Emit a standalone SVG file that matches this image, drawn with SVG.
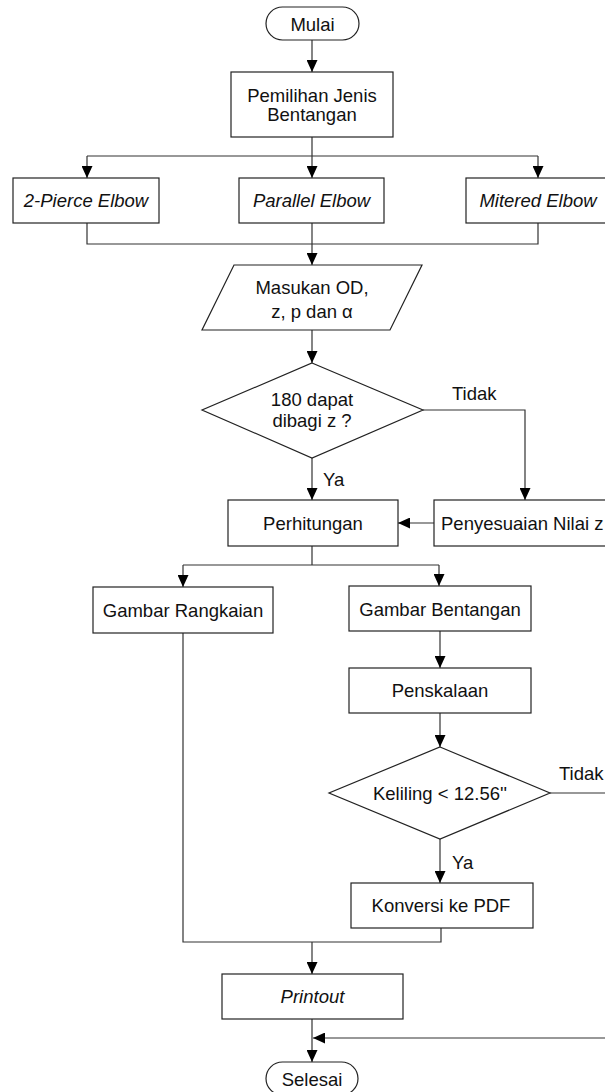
<svg xmlns="http://www.w3.org/2000/svg" width="605" height="1092" viewBox="0 0 605 1092">
<defs>
<marker id="ah" markerUnits="userSpaceOnUse" markerWidth="12" markerHeight="11" refX="12" refY="5.5" orient="auto">
<path d="M0,0 L12,5.5 L0,11 z" fill="#000"/>
</marker>
<style>
.box{fill:#fff;stroke:#222;stroke-width:1.2}
.ln{fill:none;stroke:#333;stroke-width:1.2}
.arr{fill:none;stroke:#333;stroke-width:1.2;marker-end:url(#ah)}
text{font-family:"Liberation Sans",Arial,sans-serif;font-size:18.5px;fill:#111;text-anchor:middle;dominant-baseline:central}
.it{font-style:italic}
.lb{text-anchor:start}
</style>
</defs>
<rect width="605" height="1092" fill="#fff"/>
<g id="connectors">
<path class="arr" d="M312,40 V72"/>
<path class="ln" d="M312,137 V156 M87,156 H538"/>
<path class="arr" d="M87,156 V178"/>
<path class="arr" d="M312,156 V178"/>
<path class="arr" d="M538,156 V178"/>
<path class="ln" d="M87,223 V244 H538 V223"/>
<path class="arr" d="M312,223 V265"/>
<path class="arr" d="M312,330 V363"/>
<path class="arr" d="M312,458 V500"/>
<path class="arr" d="M423,410 H525 V500"/>
<path class="arr" d="M434,523 H398"/>
<path class="ln" d="M312,546 V565 M183,565 H439"/>
<path class="arr" d="M183,565 V587"/>
<path class="arr" d="M439,565 V586"/>
<path class="arr" d="M440,631 V668"/>
<path class="arr" d="M440,713 V747"/>
<path class="ln" d="M550,793 H606"/>
<path class="arr" d="M440,839 V883"/>
<path class="ln" d="M183,633 V942 H441 V928"/>
<path class="arr" d="M312,942 V974"/>
<path class="arr" d="M312,1019 V1062"/>
<path class="arr" d="M606,1038 H313"/>
</g>
<g id="mulai"><rect class="box" x="266" y="7" width="93" height="33" rx="16.5"/><text x="312.5" y="24">Mulai</text></g>
<g id="pemilihan"><rect class="box" x="231" y="72" width="162" height="65"/><text x="312" y="95">Pemilihan Jenis</text><text x="312" y="114.5">Bentangan</text></g>
<g id="pierce"><rect class="box" x="13" y="178" width="146" height="45"/><text class="it" x="86" y="200">2-Pierce Elbow</text></g>
<g id="parallel"><rect class="box" x="239" y="178" width="145" height="45"/><text class="it" x="311.5" y="200">Parallel Elbow</text></g>
<g id="mitered"><rect class="box" x="466" y="178" width="145" height="45"/><text class="it" x="538" y="200">Mitered Elbow</text></g>
<g id="masukan"><polygon class="box" points="234,265 422,265 390,330 202,330"/><text x="312" y="287">Masukan OD,</text><text x="312" y="311">z, p dan α</text></g>
<g id="cek180"><polygon class="box" points="312,363 423,410 312,458 202,410"/><text x="312" y="399">180 dapat</text><text x="312" y="420">dibagi z ?</text></g>
<g id="lbl1"><text class="lb" x="452" y="393">Tidak</text><text class="lb" x="323" y="479">Ya</text></g>
<g id="perhitungan"><rect class="box" x="228" y="500" width="170" height="46"/><text x="313" y="523">Perhitungan</text></g>
<g id="penyesuaian"><rect class="box" x="434" y="500" width="182" height="46"/><text class="lb" x="441" y="523">Penyesuaian Nilai z</text></g>
<g id="rangkaian"><rect class="box" x="93" y="587" width="180" height="46"/><text x="183" y="610">Gambar Rangkaian</text></g>
<g id="bentangan"><rect class="box" x="349" y="586" width="182" height="45"/><text x="440" y="609">Gambar Bentangan</text></g>
<g id="penskalaan"><rect class="box" x="349" y="668" width="182" height="45"/><text x="440" y="690">Penskalaan</text></g>
<g id="keliling"><polygon class="box" points="440,747 550,793 440,839 329,793"/><text x="440" y="793">Keliling &lt; 12.56''</text></g>
<g id="lbl2"><text class="lb" x="559" y="773">Tidak</text><text class="lb" x="452" y="862">Ya</text></g>
<g id="konversi"><rect class="box" x="351" y="883" width="182" height="45"/><text x="441" y="905">Konversi ke PDF</text></g>
<g id="printout"><rect class="box" x="222" y="974" width="181" height="45"/><text class="it" x="312.5" y="996">Printout</text></g>
<g id="selesai"><rect class="box" x="266" y="1062" width="92" height="33" rx="16.5"/><text x="312" y="1079">Selesai</text></g>
</svg>
